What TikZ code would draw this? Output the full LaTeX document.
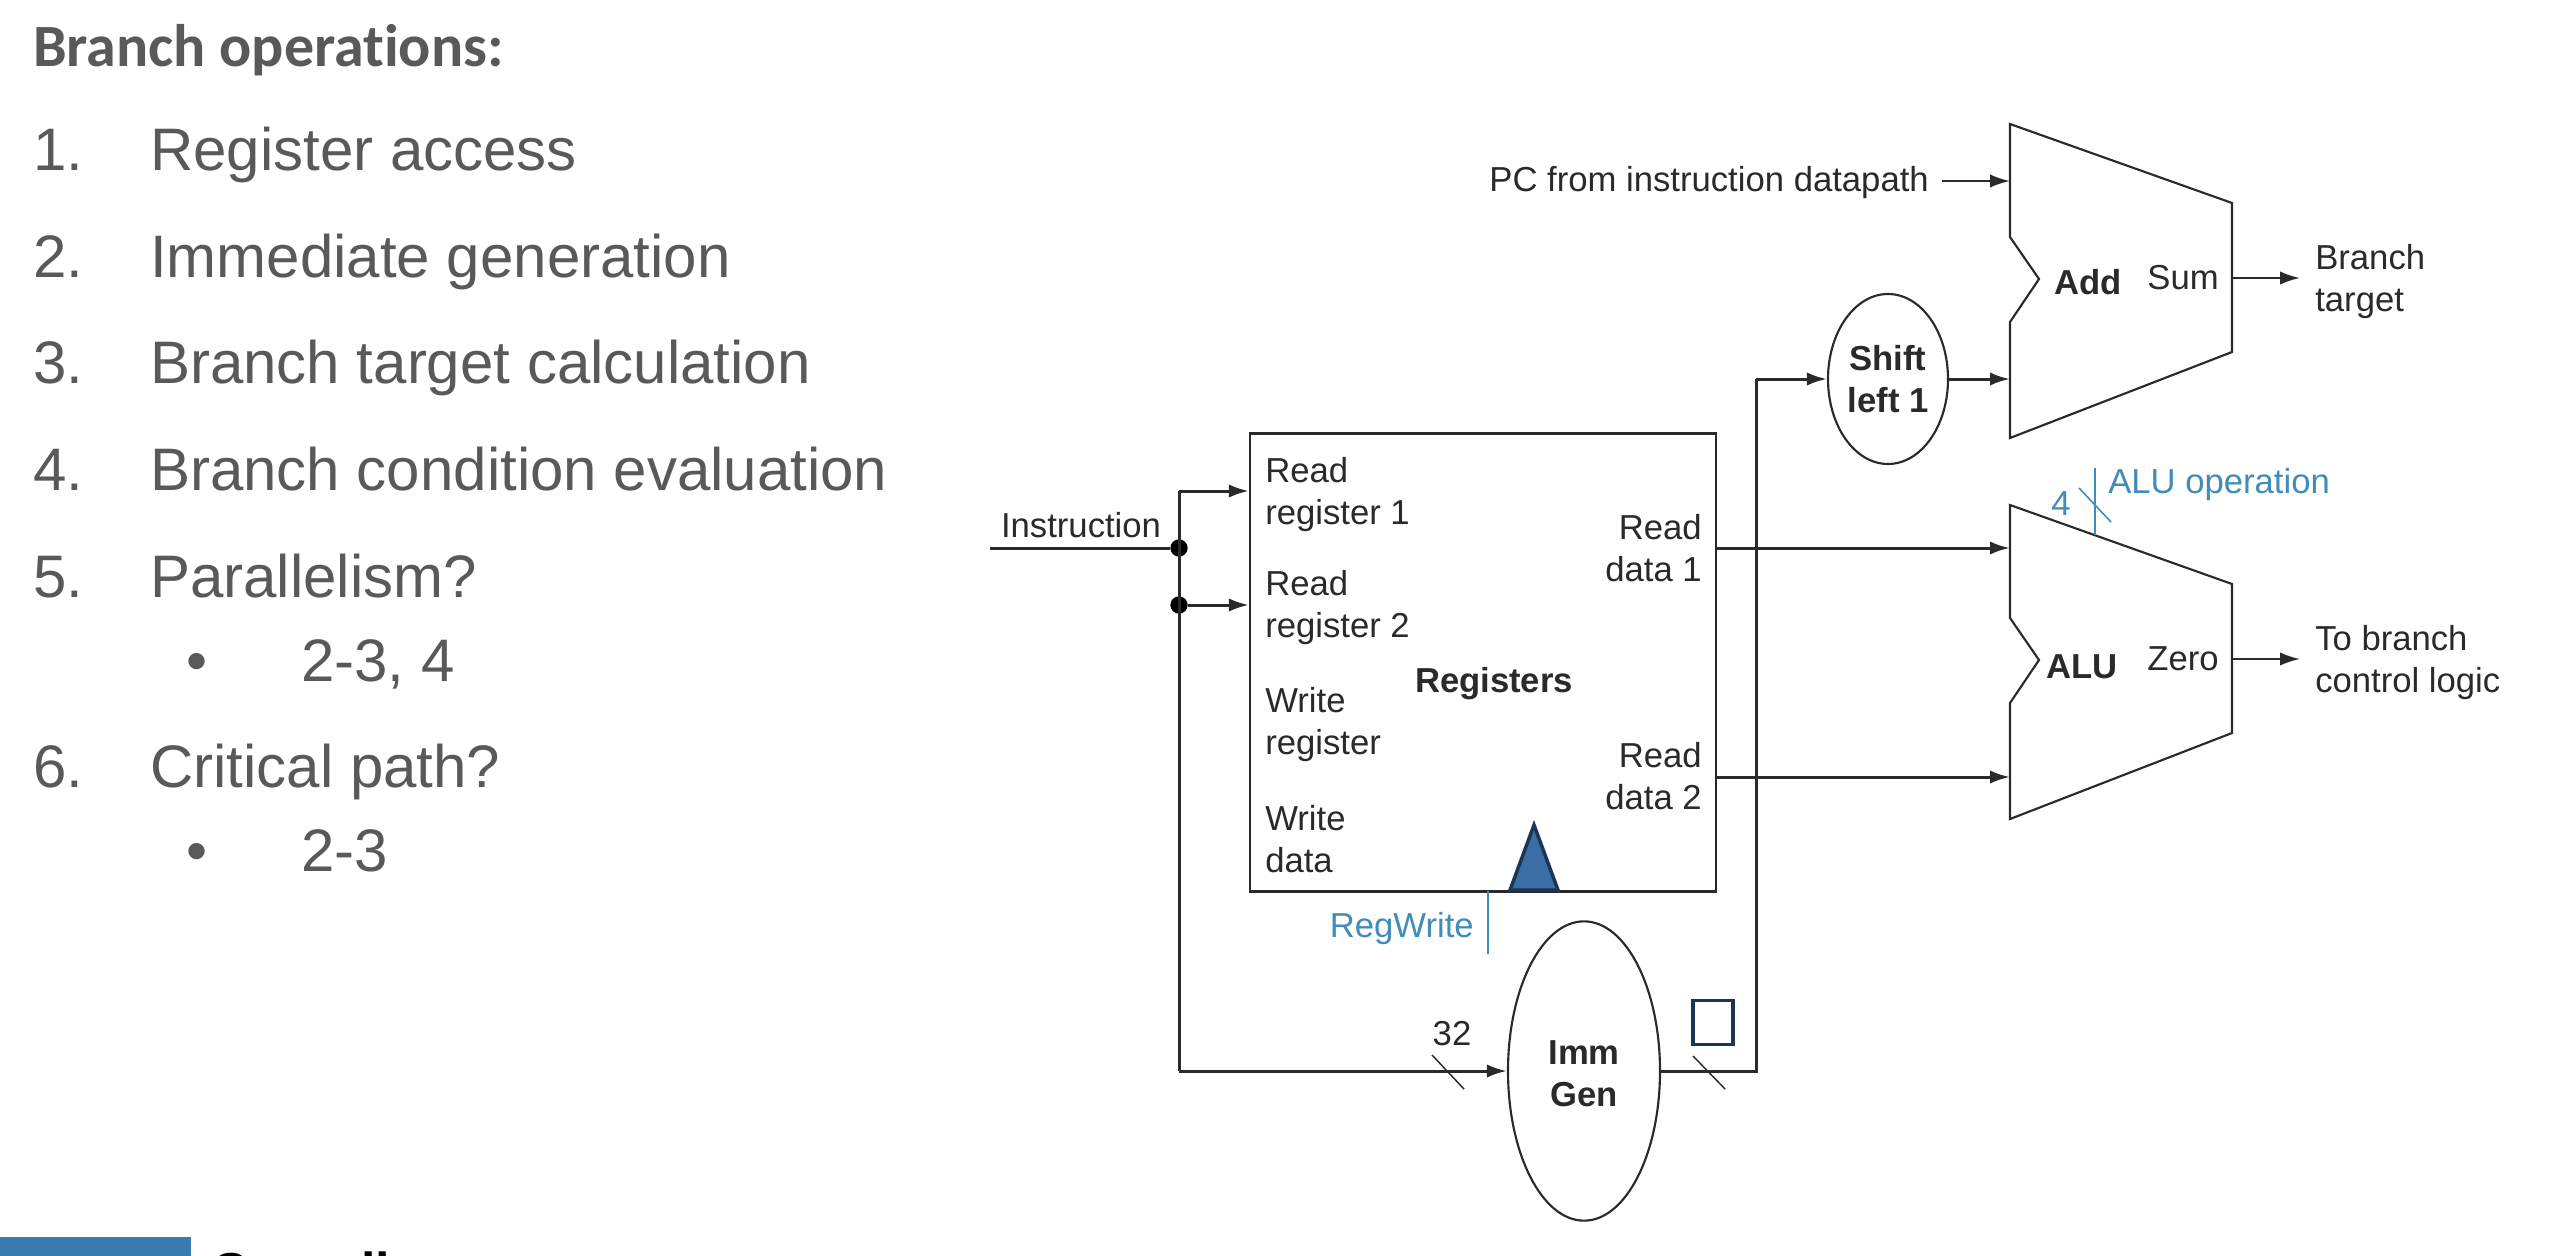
\documentclass[tikz,border=0pt]{standalone}
\usepackage{fontspec}
\setmainfont{Liberation Sans}
\newfontfamily\titlefont[Ligatures=CommonOff]{Carlito}
\usetikzlibrary{arrows.meta,shapes.geometric}
\definecolor{slidegray}{HTML}{58595B}
\definecolor{linegray}{HTML}{2A2A2A}
\definecolor{ctrlblue}{HTML}{3F8DB8}
\definecolor{barblue}{HTML}{3A7CB2}
\definecolor{clockfill}{HTML}{3A6EA5}
\definecolor{navy}{HTML}{1B3554}
\tikzset{
    lab/.style={font=\fontsize{26}{31.5}\selectfont, text=linegray, inner sep=0pt, align=left},
    labb/.style={lab, font=\fontsize{26}{31.5}\selectfont\bfseries, align=center},
    ctrl/.style={lab, text=ctrlblue},
    item/.style={font=\fontsize{45}{50}\selectfont, text=slidegray, inner sep=0pt, anchor=base west},
    wire/.style={line width=2.25pt, draw=linegray},
    arr/.style={wire, -{Latex[length=15pt,width=10pt]}},
    block/.style={line width=1.6pt, draw=linegray, fill=white},
    bubble/.style={block, ellipse, inner sep=0pt},
    dot/.style={circle, fill=black, inner sep=0pt, minimum size=13pt},
    hash/.style={line width=1.1pt, draw=linegray}
}
\begin{document}
\begin{tikzpicture}[x=0.75pt, y=-0.75pt]
    \useasboundingbox (0,0) rectangle (2552,1256);
    \clip (0,0) rectangle (2552,1256);
    % left text
    \node (title) [anchor=base west, inner sep=0pt, text=slidegray, font=\fontsize{45}{48}\selectfont\titlefont\bfseries] at (33,67) {Branch operations:};
    \foreach \num/\txt/\ypos in {1./Register access/170, 2./Immediate generation/277, 3./Branch target calculation/383, 4./Branch condition evaluation/490, 5./Parallelism?/597, 6./Critical path?/787} {
        \node [item] at (33,\ypos) {\num};
        \node [item] at (150,\ypos) {\txt};
    }
    \node (b1) [item] at (186,681) {\textbullet};
    \node (s1) [item] at (301,681) {2-3, 4};
    \node (b2) [item] at (186,871) {\textbullet};
    \node (s2) [item] at (301,871) {2-3};
    % footer
    \fill[barblue] (0,1237) rectangle (191,1256);
    \node (foot) [anchor=base west, inner sep=0pt, text=black, font=\fontsize{39}{42}\selectfont\bfseries] at (211,1289) {Cornell};
    % register file
    \node (reg) [block, draw, minimum width=349.5pt, minimum height=343.5pt, inner sep=0pt] at (1483,662.5) {};
    \node (regname) [labb] at (1494,684) {Registers};
    \node (rr1) [lab, anchor=west] at (1265,495) {Read\\register 1};
    \node (rr2) [lab, anchor=west] at (1265,608) {Read\\register 2};
    \node (wr) [lab, anchor=west] at (1265,725) {Write\\register};
    \node (wd) [lab, anchor=west] at (1265,839) {Write\\data};
    \node (rd1) [lab, anchor=east, align=right] at (1702,548) {Read\\data 1};
    \node (rd2) [lab, anchor=east, align=right] at (1702,776) {Read\\data 2};
    % clock
    \draw[line width=2.6pt, draw=navy, fill=clockfill, line join=miter] (1510,890) -- (1534,825) -- (1558,890) -- cycle;
    % bubbles
    \node (imm) [bubble, minimum width=114pt, minimum height=224.5pt] at (1584,1071) {};
    \node (immname) [labb] at (1584,1074) {Imm\\Gen};
    \node (shift) [bubble, minimum width=90pt, minimum height=127.5pt] at (1888,379) {};
    \node (shiftname) [labb] at (1888,379) {Shift\\left 1};
    % adders
    \foreach \name/\dy in {add/0, alu/381} {
        \draw[block] (2010,124+\dy) -- (2232,203+\dy) -- (2232,352+\dy) -- (2010,438+\dy) -- (2010,322+\dy) -- (2039,279+\dy) -- (2010,237+\dy) -- cycle;
        \coordinate (\name in1) at (2010,181+\dy);
        \coordinate (\name in2) at (2010,379+\dy);
    }
    \node (addname) [labb] at (2088,282) {Add};
    \node (sum) [lab] at (2183,278) {Sum};
    \node (aluname) [labb] at (2082,667) {ALU};
    \node (zero) [lab] at (2183,659) {Zero};
    % outputs
    \coordinate (sumout) at (2232,278);
    \coordinate (zeroout) at (2232,659);
    \node (target) [lab, anchor=west] at (2315,282) {Branch\\target};
    \node (ctl) [lab, anchor=west] at (2315,663) {To branch\\control logic};
    \coordinate (sumtip) at (2300,278);
    \coordinate (zerotip) at (2300,659);
    \draw[arr, line width=1.6pt] (sumout) -- (sumtip);
    \draw[arr, line width=1.6pt] (zeroout) -- (zerotip);
    % instruction wires
    \coordinate (start) at (990,548);
    \node (instr) [lab] at (1081,525) {Instruction};
    \node (j1) [dot] at (1179,548) {};
    \node (j2) [dot] at (1179,605) {};
    \coordinate (top) at (1179,491);
    \coordinate (corner) at (1179,1071);
    \draw[wire] (start) -- (j1);
    \draw[wire] (top) -- (corner);
    \draw[arr] (top) -- (top -| reg.west);
    \draw[arr] (j2) -- (j2 -| reg.west);
    \draw[arr] (corner) -- (imm.west);
    % imm to shift
    \coordinate (bend) at (1756,1071);
    \coordinate (up) at (1756,379);
    \draw[wire] (imm.east) -- (bend) -- (up);
    \draw[arr] (up) -- (shift.west);
    \draw[arr] (shift.east) -- (addin2);
    % read data wires
    \coordinate (rdo1) at (1716,548);
    \coordinate (rdo2) at (1716,777);
    \draw[arr] (rdo1) -- (rdo1 -| aluin1);
    \draw[arr] (rdo2) -- (rdo2 -| aluin1);
    % pc
    \node (pc) [lab, anchor=east] at (1929,183) {PC from instruction datapath};
    \coordinate (pcstart) at (1942,181);
    \draw[arr, line width=1.6pt] (pcstart) -- (addin1);
    % width marks
    \node (n32) [lab] at (1452,1034) {32};
    \draw[hash] (1432,1055) -- (1464,1089);
    \draw[hash] (1693,1056) -- (1725,1089);
    \node (sqbox) [draw=navy, line width=2.6pt, minimum width=30pt, minimum height=33pt, inner sep=0pt] at (1713,1022.5) {};
    % control
    \node (rw) [ctrl, anchor=east] at (1474,929) {RegWrite};
    \coordinate (rwend) at (1488,954);
    \draw[line width=1.2pt, draw=ctrlblue] (1488,891) -- (rwend);
    \node (aluop) [ctrl, anchor=west] at (2108,485) {ALU operation};
    \node (four) [ctrl] at (2061,504) {4};
    \draw[line width=1.4pt, draw=ctrlblue] (2095,468) -- (2095,535);
    \draw[line width=1.2pt, draw=ctrlblue] (2079,488) -- (2111,522);
\end{tikzpicture}
\end{document}
